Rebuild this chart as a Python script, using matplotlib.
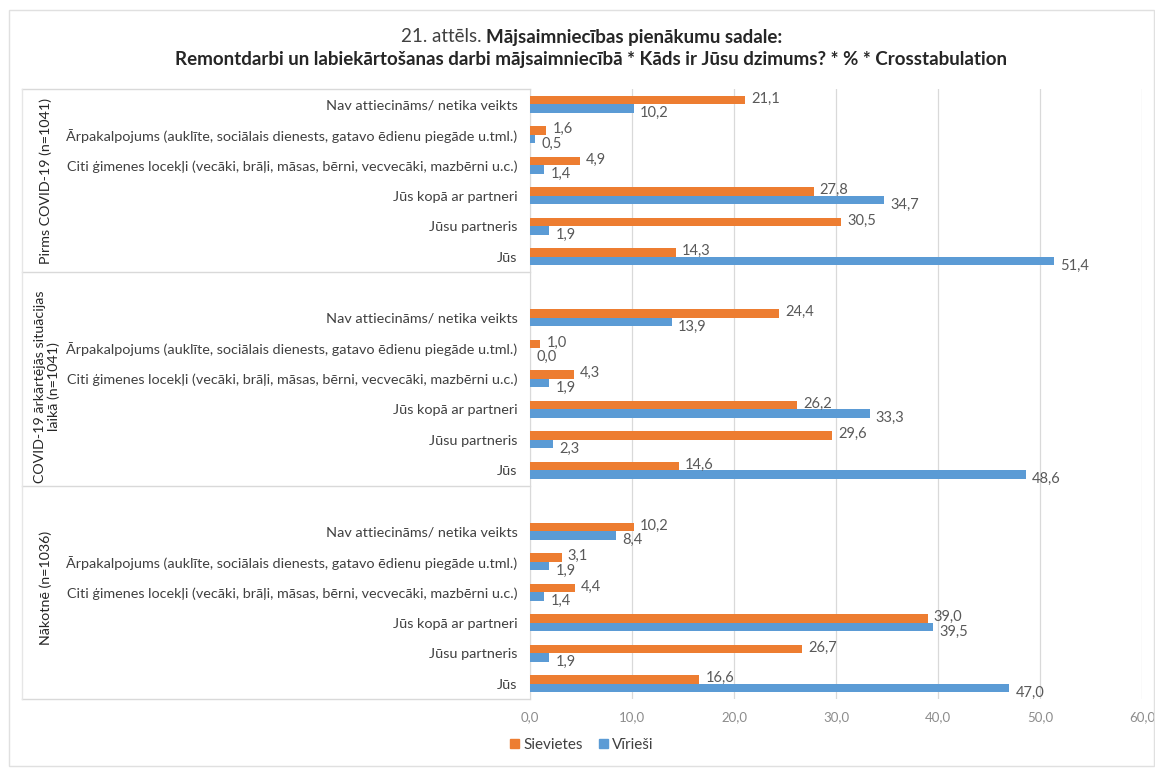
import matplotlib
matplotlib.use("Agg")
import matplotlib.pyplot as plt
from matplotlib.lines import Line2D
from matplotlib.patches import Rectangle
from matplotlib.ticker import FuncFormatter, MultipleLocator

plt.rcParams['font.family'] = ['Lato', 'DejaVu Sans']

categories = [
    "Nav attiecināms/ netika veikts",
    "Ārpakalpojums (auklīte, sociālais dienests, gatavo ēdienu piegāde u.tml.)",
    "Citi ģimenes locekļi (vecāki, brāļi, māsas, bērni, vecvecāki, mazbērni u.c.)",
    "Jūs kopā ar partneri",
    "Jūsu partneris",
    "Jūs",
]
groups = ["Pirms COVID-19 (n=1041)",
          "COVID-19 ārkārtējās situācijas\nlaikā (n=1041)",
          "Nākotnē (n=1036)"]
sievietes = [
    [21.1, 1.6, 4.9, 27.8, 30.5, 14.3],
    [24.4, 1.0, 4.3, 26.2, 29.6, 14.6],
    [10.2, 3.1, 4.4, 39.0, 26.7, 16.6],
]
viriesi = [
    [10.2, 0.5, 1.4, 34.7, 1.9, 51.4],
    [13.9, 0.0, 1.9, 33.3, 2.3, 48.6],
    [8.4, 1.9, 1.4, 39.5, 1.9, 47.0],
]
series_names = ["Sievietes", "Vīrieši"]
title_normal = "21. attēls. "
title_bold1 = "Mājsaimniecības pienākumu sadale:"
title_bold2 = "Remontdarbi un labiekārtošanas darbi mājsaimniecībā * Kāds ir Jūsu dzimums? * % * Crosstabulation"

ORANGE = "#ED7D31"
BLUE = "#5B9BD5"
GRID = "#D9D9D9"
TXT = "#404040"
LBL = "#595959"

W, H = 1155, 771
fig = plt.figure(figsize=(W / 100, H / 100), dpi=100)

def fx(px):
    return px / W

def fy(py):
    return 1 - py / H

ax_l, ax_r, ax_t, ax_b = 530, 1142, 89, 699
ax = fig.add_axes([fx(ax_l), fy(ax_b), fx(ax_r) - fx(ax_l), fy(ax_t) - fy(ax_b)])

bh = 0.28
off = 0.14
yt, yl = [], []
for g in range(3):
    base = g * 7
    for i, cat in enumerate(categories):
        y = base + i
        yt.append(y)
        yl.append(cat)
        s = sievietes[g][i]
        v = viriesi[g][i]
        ax.barh(y - off, s, height=bh, color=ORANGE, zorder=3)
        ax.barh(y + off, v, height=bh, color=BLUE, zorder=3)
        ax.text(s + 0.6, y - off - 0.05, f"{s:.1f}".replace(".", ","), va="center",
                ha="left", fontsize=10.5, color=LBL, zorder=4)
        ax.text(v + 0.6, y + off + 0.15, f"{v:.1f}".replace(".", ","), va="center",
                ha="left", fontsize=10.5, color=LBL, zorder=4)

ax.set_xlim(0, 60)
ax.set_ylim(19.5, -0.5)
ax.xaxis.set_major_locator(MultipleLocator(10))
ax.xaxis.set_major_formatter(FuncFormatter(lambda x, p: f"{x:.1f}".replace(".", ",")))
ax.grid(axis="x", color=GRID, linewidth=0.9, zorder=0)
ax.set_yticks(yt)
ax.set_yticklabels(yl, fontsize=10.4, color=TXT)
ax.tick_params(axis="y", length=0, pad=9)
ax.tick_params(axis="x", length=0, pad=9, labelsize=9.5, labelcolor="#8C8C8C")
for sp in ["top", "right", "bottom"]:
    ax.spines[sp].set_visible(False)
ax.spines["left"].set_color(GRID)

# group box lines
for yy in [89, 272, 486, 699]:
    fig.add_artist(Line2D([fx(22), fx(530)], [fy(yy), fy(yy)], color=GRID, linewidth=1.0))
fig.add_artist(Line2D([fx(22), fx(22)], [fy(89), fy(699)], color="#E6E6E6", linewidth=1.0))
# chart border
fig.add_artist(Rectangle((fx(9), fy(766)), fx(1154) - fx(9), fy(10) - fy(766),
                         fill=False, edgecolor="#E0E0E0", linewidth=1.0))

# group labels
gcent = [(89 + 272) / 2, (272 + 486) / 2 + 8, (486 + 699) / 2 - 5]
gx = [46, 47, 46]
for g, lab in enumerate(groups):
    fig.text(fx(gx[g]), fy(gcent[g]), lab, rotation=90, ha="center", va="center",
             fontsize=10.3, color="#262626", linespacing=1.05)

# title
t1 = fig.text(0, fy(37), title_normal, fontsize=13.5, color="#404040", va="center", ha="left")
t2 = fig.text(0, fy(37), title_bold1, fontsize=13.5, color="#262626", fontweight="bold",
              va="center", ha="left")
fig.text(fx(591), fy(59), title_bold2, fontsize=13.5, color="#262626", fontweight="bold",
         va="center", ha="center")
fig.canvas.draw()
r = fig.canvas.get_renderer()
w1 = t1.get_window_extent(r).width
w2 = t2.get_window_extent(r).width
start = 592 - (w1 + w2) / 2
t1.set_x(fx(start))
t2.set_x(fx(start + w1))

# legend
handles = [Rectangle((0, 0), 1, 1, color=ORANGE), Rectangle((0, 0), 1, 1, color=BLUE)]
fig.legend(handles, series_names, loc="center", bbox_to_anchor=(fx(582), fy(745)),
           ncol=2, frameon=False, fontsize=11, handlelength=0.6, handleheight=0.6,
           handletextpad=0.3, columnspacing=1.0, labelcolor=TXT)

fig.savefig("out.png", dpi=100)
